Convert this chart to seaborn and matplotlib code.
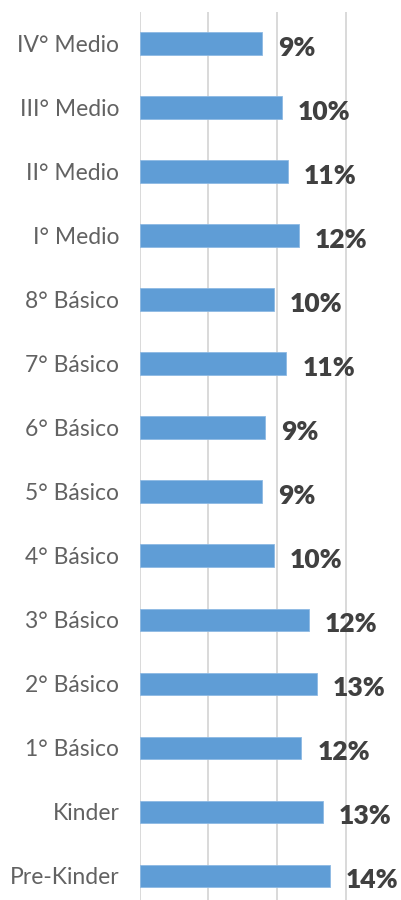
import matplotlib
matplotlib.use("Agg")
import matplotlib.pyplot as plt
import seaborn as sns
import pandas as pd

# grades, top to bottom as drawn
grades = ["IV° Medio", "III° Medio", "II° Medio", "I° Medio",
          "8° Básico", "7° Básico", "6° Básico", "5° Básico", "4° Básico",
          "3° Básico", "2° Básico", "1° Básico", "Kinder", "Pre-Kinder"]
shares = [0.0894, 0.1035, 0.1081, 0.1159,
          0.0979, 0.1069, 0.0914, 0.0894, 0.0979,
          0.1234, 0.1290, 0.1178, 0.1334, 0.1387]
grid_ticks = [0, 0.05, 0.10, 0.15]

df = pd.DataFrame({"grade": grades, "share": shares})

sns.set_style("white")
plt.rcParams["font.family"] = ["Lato", "DejaVu Sans"]

fig = plt.figure(figsize=(4.01, 9.0), dpi=100)
ax = fig.add_axes([139.5 / 401, -0.0089, 1 - 139.5 / 401, 0.996])

sns.barplot(data=df, x="share", y="grade", orient="h", color="#5F9DD6",
            width=0.355, edgecolor="#8DB9E3", linewidth=0.6, ax=ax,
            saturation=1)

for i, v in enumerate(shares):
    ax.annotate(f"{v * 100:.0f}%", xy=(v, i), xytext=(16, -4),
                textcoords="offset pixels", va="center", ha="left",
                fontsize=19, fontweight="heavy", color="#404040")

ax.set_xlim(0, 0.1904)
ax.set_ylim(len(grades) - 0.5, -0.5)
ax.set_xticks(grid_ticks)
ax.set_xticklabels([])
ax.tick_params(axis="x", length=0)
ax.tick_params(axis="y", length=0, pad=14.5, labelsize=16.5, labelcolor="#626262")
ax.xaxis.grid(True, color="#D9D9D9", linewidth=1.4)
ax.set_axisbelow(True)
ax.set_xlabel("")
ax.set_ylabel("")
sns.despine(ax=ax, left=True, bottom=True)

fig.savefig("out.png", dpi=100)
